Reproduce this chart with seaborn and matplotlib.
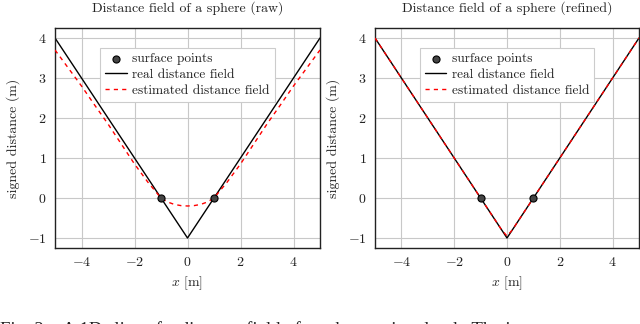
import matplotlib
matplotlib.use("Agg")
import matplotlib.pyplot as plt
import seaborn as sns

sns.set_theme(style="white")
plt.rcParams["font.family"] = ["cmr10", "DejaVu Serif"]
plt.rcParams["mathtext.fontset"] = "cm"
plt.rcParams["axes.formatter.use_mathtext"] = True

# data
x_real = [-5, -4, -3, -2, -1, 0, 1, 2, 3, 4, 5]
y_real = [4, 3, 2, 1, 0, -1, 0, 1, 2, 3, 4]

x_raw = [-5, -4.5, -4, -3.5, -3, -2.5, -2, -1.5, -1, -0.75, -0.5, -0.25, 0,
         0.25, 0.5, 0.75, 1, 1.5, 2, 2.5, 3, 3.5, 4, 4.5, 5]
y_raw = [3.7, 3.25, 2.8, 2.32, 1.85, 1.35, 0.85, 0.4, 0.0, -0.1, -0.16, -0.19, -0.2,
         -0.19, -0.16, -0.1, 0.0, 0.4, 0.85, 1.35, 1.85, 2.32, 2.8, 3.25, 3.7]

x_ref = [-5, -4, -3, -2, -1, -0.5, -0.2, 0, 0.2, 0.5, 1, 2, 3, 4, 5]
y_ref = [4, 3, 2, 1, 0, -0.5, -0.8, -0.95, -0.8, -0.5, 0, 1, 2, 3, 4]

x_surf = [-1, 1]
y_surf = [0, 0]

titles = ["Distance field of a sphere (raw)", "Distance field of a sphere (refined)"]
xticks = [-4, -2, 0, 2, 4]
yticks = [-1, 0, 1, 2, 3, 4]

caption = "Fig. 2:   A 1D slice of a distance field of a sphere point cloud.  The i"

W, H = 640, 324
fig = plt.figure(figsize=(W / 100, H / 100), dpi=100)
ax1 = fig.add_axes([55 / W, (H - 248) / H, 265 / W, 220 / H])
ax2 = fig.add_axes([375 / W, (H - 248) / H, 264 / W, 220 / H])

for ax, (xe, ye), title in zip([ax1, ax2], [(x_raw, y_raw), (x_ref, y_ref)], titles):
    ax.set_xlim(-5, 5)
    ax.set_ylim(-1.25, 4.25)
    ax.set_xticks(xticks)
    ax.set_yticks(yticks)
    ax.grid(True, color="#c8c8c8", lw=0.8)
    ax.set_axisbelow(True)
    for s in ax.spines.values():
        s.set_color("#222222")
        s.set_linewidth(1.0)
    ax.tick_params(direction="in", length=3, width=0.6, labelsize=10, colors="#222222",
                   pad=6)
    sns.scatterplot(x=x_surf, y=y_surf, ax=ax, marker="o", s=26, color="#444444",
                    edgecolor="black", linewidth=0.8, zorder=5, label="surface points")
    sns.lineplot(x=x_real, y=y_real, ax=ax, color="black", lw=1.0, sort=False,
                 label="real distance field")
    sns.lineplot(x=xe, y=ye, ax=ax, color="red", lw=1.0, sort=False,
                 label="estimated distance field", zorder=4)
    ax.lines[-1].set_linestyle((0, (3, 3)))
    ax.set_title(title, fontsize=10, pad=12, color="#222222")
    ax.set_xlabel("$x$ [m]", fontsize=10, color="#222222", labelpad=4)
    ax.set_ylabel("signed distance (m)", fontsize=10, color="#222222", labelpad=6)
    leg = ax.legend(loc="upper center", bbox_to_anchor=(0.5, 0.91), fontsize=9.6,
                    frameon=True, fancybox=False, edgecolor="#cccccc", framealpha=1,
                    handlelength=1.6, borderpad=0.4, labelspacing=0.25,
                    handletextpad=0.4, borderaxespad=0)
    leg.get_frame().set_linewidth(0.8)
    for t in leg.get_texts():
        t.set_color("#222222")

fig.text(0.0, 1 - 335 / H, caption, fontsize=13.5, family=["Liberation Serif"],
         va="baseline", ha="left", color="#222222")

fig.savefig("out.png", dpi=100)
